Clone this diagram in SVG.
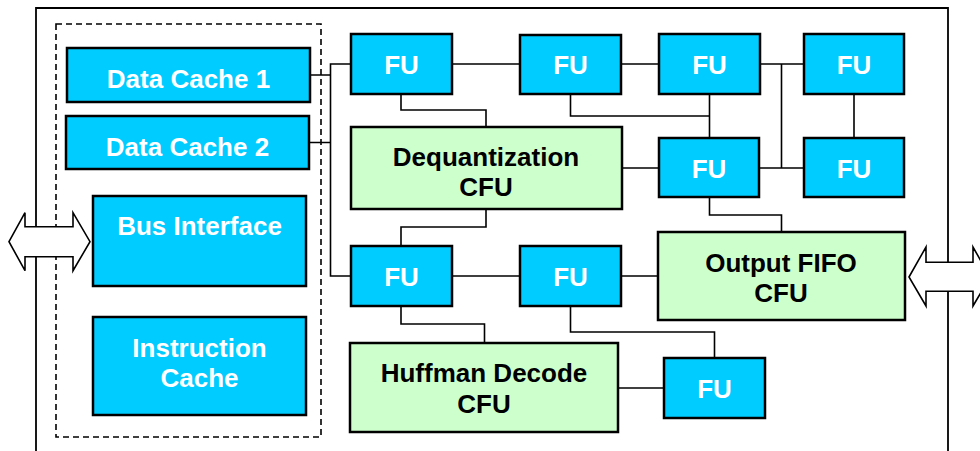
<svg xmlns="http://www.w3.org/2000/svg" width="980" height="451" viewBox="0 0 980 451">
<style>
.fu{fill:#00CCFF;stroke:#000;stroke-width:2.5}
.cfu{fill:#CCFFCC;stroke:#000;stroke-width:2.5}
.w{fill:#fff;font-family:"Liberation Sans",Arial,sans-serif;font-weight:bold;font-size:26px;text-anchor:middle}
.b{fill:#000;font-family:"Liberation Sans",Arial,sans-serif;font-weight:bold;font-size:26px;text-anchor:middle}
.c{fill:none;stroke:#000;stroke-width:1.6}
.arr{fill:#fff;stroke:#000;stroke-width:1.6;stroke-linejoin:miter}
</style>
<rect width="980" height="451" fill="#fff"/>
<g id="chip">
<path d="M36,451 V8 H948 V451" fill="none" stroke="#000" stroke-width="1.8"/>
</g>
<g id="memory-group">
<rect x="56" y="24" width="265" height="413" fill="none" stroke="#000" stroke-width="1.6" stroke-dasharray="6,4"/>
</g>
<g id="connectors">
<path class="c" d="M310,75 H330.5 M309,142.5 H330.5 M351,64 H330.5 V276 H351"/>
<path class="c" d="M452,64 H520 M621,64 H659 M760,64 H804 M781.5,64 V168 M759,168 H804 M854,94 V138"/>
<path class="c" d="M709.5,94 V138 M570.5,94 V116 H709.5"/>
<path class="c" d="M401,94 V110 H486 V127"/>
<path class="c" d="M622,168 H659"/>
<path class="c" d="M486,209 V227 H401 V246"/>
<path class="c" d="M709.5,197 V215 H781.5 V232"/>
<path class="c" d="M452,276 H520 M621,276 H658"/>
<path class="c" d="M401,306 V324 H484.5 V343"/>
<path class="c" d="M570.5,306 V332 H714.5 V358"/>
<path class="c" d="M618,388 H664"/>
</g>
<g id="data-cache-1"><rect class="fu" x="67" y="48" width="243" height="54"/><text class="w" x="188.5" y="87.5">Data Cache 1</text></g>
<g id="data-cache-2"><rect class="fu" x="66" y="116" width="243" height="53"/><text class="w" x="187.5" y="155.5">Data Cache 2</text></g>
<g id="bus-interface"><rect class="fu" x="93" y="196" width="213" height="90"/><text class="w" x="199.5" y="235">Bus Interface</text></g>
<g id="instruction-cache"><rect class="fu" x="93" y="317" width="213" height="98"/><text class="w" x="199.5" y="356.5">Instruction</text><text class="w" x="199.5" y="387">Cache</text></g>
<g id="fu-1"><rect class="fu" x="351" y="34" width="101" height="60"/><text class="w" x="401.5" y="74">FU</text></g>
<g id="fu-2"><rect class="fu" x="520" y="35" width="101" height="59"/><text class="w" x="570.5" y="74">FU</text></g>
<g id="fu-3"><rect class="fu" x="659" y="34" width="101" height="60"/><text class="w" x="709.5" y="74">FU</text></g>
<g id="fu-4"><rect class="fu" x="804" y="34" width="100" height="60"/><text class="w" x="854" y="74">FU</text></g>
<g id="fu-5"><rect class="fu" x="659" y="138" width="100" height="59"/><text class="w" x="709" y="178">FU</text></g>
<g id="fu-6"><rect class="fu" x="804" y="138" width="100" height="59"/><text class="w" x="854" y="178">FU</text></g>
<g id="dequantization-cfu"><rect class="cfu" x="351" y="127" width="271" height="82"/><text class="b" x="486" y="165.5">Dequantization</text><text class="b" x="486" y="196">CFU</text></g>
<g id="fu-7"><rect class="fu" x="351" y="246" width="101" height="60"/><text class="w" x="401.5" y="286">FU</text></g>
<g id="fu-8"><rect class="fu" x="520" y="246" width="101" height="60"/><text class="w" x="570.5" y="286">FU</text></g>
<g id="output-fifo-cfu"><rect class="cfu" x="658" y="232" width="247" height="88"/><text class="b" x="781" y="271.5">Output FIFO</text><text class="b" x="781" y="302">CFU</text></g>
<g id="huffman-decode-cfu"><rect class="cfu" x="350" y="343" width="268" height="89"/><text class="b" x="484" y="382">Huffman Decode</text><text class="b" x="484" y="412.5">CFU</text></g>
<g id="fu-9"><rect class="fu" x="664" y="358" width="101" height="60"/><text class="w" x="714.5" y="397.5">FU</text></g>
<g id="left-bus-arrow"><polygon class="arr" points="9,241.7 25,212.7 25,226.7 73,226.7 73,212.7 90,241.7 73,270.7 73,256.7 25,256.7 25,270.7"/></g>
<g id="right-bus-arrow"><polygon class="arr" points="909,277 926,247 926,262.3 973,262.3 973,247 990,277 973,306 973,291.3 926,291.3 926,306"/></g>
</svg>
